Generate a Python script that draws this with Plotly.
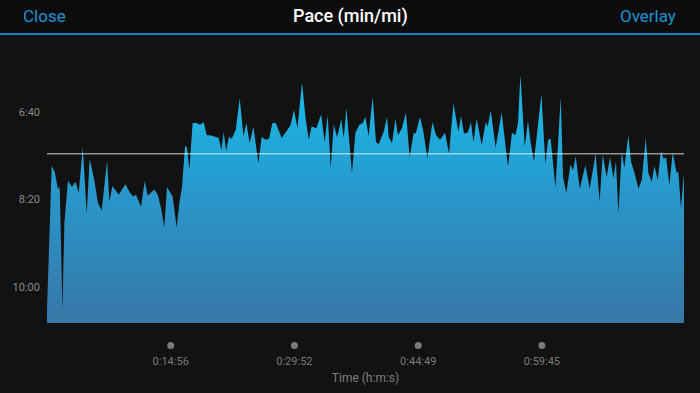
import plotly.graph_objects as go

# elapsed time (s) and pace (s per mile)
time_s = [0, 34, 56, 80, 92, 112, 126, 152, 181, 206, 230, 259, 288, 309, 340, 369, 396, 435, 452, 474,
          519, 568, 599, 623, 645, 681, 708, 729, 778, 802, 826, 850, 869, 910, 939, 959, 978, 1000, 1014, 1031,
          1055, 1084, 1108, 1135, 1157, 1181, 1224, 1244, 1263, 1280, 1297, 1318, 1338, 1367, 1396, 1423, 1444, 1468, 1495, 1531,
          1555, 1584, 1608, 1633, 1657, 1700, 1741, 1765, 1789, 1814, 1847, 1874, 1896, 1917, 1951, 1986, 2011, 2033, 2055, 2077,
          2101, 2132, 2149, 2169, 2209, 2234, 2263, 2287, 2306, 2330, 2359, 2383, 2403, 2439, 2463, 2475, 2499, 2524, 2542, 2571,
          2600, 2627, 2656, 2671, 2702, 2726, 2755, 2792, 2818, 2847, 2883, 2912, 2944, 2980, 2999, 3020, 3047, 3071, 3089, 3112,
          3149, 3178, 3192, 3214, 3250, 3293, 3339, 3368, 3393, 3412, 3429, 3460, 3484, 3503, 3527, 3556, 3581, 3610, 3629, 3648,
          3683, 3721, 3738, 3762, 3791, 3810, 3830, 3859, 3900, 3931, 3974, 4003, 4025, 4054, 4078, 4103, 4121, 4139, 4163, 4182,
          4211, 4230, 4259, 4284, 4308, 4337, 4356, 4380, 4400, 4424, 4447, 4467, 4484, 4508, 4532, 4561, 4573, 4592, 4614]
pace_s = [627, 462, 469, 489, 486, 627, 527, 479, 486, 480, 493, 441, 517, 454, 476, 504, 513, 456, 503, 485,
          495, 483, 492, 497, 495, 509, 479, 496, 489, 495, 510, 532, 486, 497, 532, 504, 486, 439, 441, 467,
          413, 413, 415, 412, 427, 427, 429, 430, 444, 423, 445, 429, 431, 421, 385, 428, 413, 436, 417, 459,
          429, 432, 431, 413, 413, 430, 421, 415, 398, 419, 367, 409, 432, 417, 419, 403, 435, 404, 464, 415,
          429, 409, 430, 396, 470, 424, 415, 413, 406, 428, 383, 435, 437, 423, 406, 429, 436, 408, 427, 419,
          401, 452, 424, 425, 406, 423, 453, 412, 427, 432, 424, 448, 391, 423, 405, 425, 424, 412, 435, 408,
          438, 412, 417, 399, 441, 401, 463, 424, 427, 413, 358, 440, 411, 435, 457, 419, 380, 460, 432, 431,
          487, 384, 475, 493, 461, 467, 451, 488, 461, 488, 448, 503, 449, 475, 452, 476, 457, 516, 446, 464,
          427, 457, 472, 488, 478, 430, 470, 480, 462, 478, 445, 454, 452, 484, 447, 470, 469, 510, 470]

avg_pace = 448
x_tick_vals = [896, 1792, 2689, 3585]
x_tick_text = ["0:14:56", "0:29:52", "0:44:49", "0:59:45"]
y_tick_vals = [400, 500, 600]
y_tick_text = ["6:40", "8:20", "10:00"]
x_max = 4614
y_bottom = 641.5
y_top = 340.9

W, H = 700, 393
ML, MR, MT, MB = 47, 16, 60, 70
PW, PH = W - ML - MR, H - MT - MB

def px_to_paper_y(py):
    return (H - MB - py) / PH

def px_to_paper_x(px):
    return (px - ML) / PW

fig = go.Figure()
fig.add_trace(go.Scatter(x=[0, x_max], y=[y_bottom, y_bottom], mode="lines",
                         line=dict(width=0), hoverinfo="skip", showlegend=False))
fig.add_trace(go.Scatter(
    x=time_s, y=pace_s, mode="lines", line=dict(width=0, color="#1ab0e2"),
    fill="tonexty",
    fillgradient=dict(type="vertical", start=y_bottom, stop=y_top,
                      colorscale=[[0, "#3876a6"], [0.5, "#2898cc"], [1, "#14c2f0"]]),
    showlegend=False, hoverinfo="skip"))

shapes = []
# header
shapes.append(dict(type="rect", xref="paper", yref="paper",
                   x0=px_to_paper_x(0), x1=px_to_paper_x(W),
                   y0=px_to_paper_y(34), y1=px_to_paper_y(0),
                   fillcolor="#0c0c0c", line=dict(width=0), layer="below"))
shapes.append(dict(type="line", xref="paper", yref="paper",
                   x0=px_to_paper_x(0), x1=px_to_paper_x(W),
                   y0=px_to_paper_y(34), y1=px_to_paper_y(34),
                   line=dict(color="#1b7fbd", width=2)))
# average line
shapes.append(dict(type="line", xref="paper", yref="y", x0=0, x1=1, y0=avg_pace, y1=avg_pace,
                   line=dict(color="rgba(255,255,255,0.55)", width=1.5)))
# tick dots
for tv in x_tick_vals:
    shapes.append(dict(type="circle", xref="x", yref="paper",
                       xsizemode="pixel", ysizemode="pixel",
                       xanchor=tv, yanchor=px_to_paper_y(345.5),
                       x0=-3.5, x1=3.5, y0=-3.5, y1=3.5,
                       fillcolor="#7a7a7a", line=dict(width=0)))

annotations = [
    dict(text="Close", xref="paper", yref="paper", x=px_to_paper_x(21), y=px_to_paper_y(16.5),
         xanchor="left", yanchor="middle", showarrow=False,
         font=dict(family="Roboto", size=17, color="#1e93d3")),
    dict(text="Overlay", xref="paper", yref="paper", x=px_to_paper_x(678), y=px_to_paper_y(16.5),
         xanchor="right", yanchor="middle", showarrow=False,
         font=dict(family="Roboto", size=17, color="#1e93d3")),
    dict(text="Pace (min/mi)", xref="paper", yref="paper", x=px_to_paper_x(350), y=px_to_paper_y(16.5),
         xanchor="center", yanchor="middle", showarrow=False,
         font=dict(family="Roboto", size=18, color="#ffffff", weight=500)),
]

fig.update_layout(
    width=W, height=H,
    margin=dict(l=ML, r=MR, t=MT, b=MB),
    paper_bgcolor="#121212", plot_bgcolor="#121212",
    shapes=shapes, annotations=annotations,
    xaxis=dict(range=[0, x_max], showgrid=False, zeroline=False, showline=False,
               tickvals=x_tick_vals, ticktext=x_tick_text, ticks="",
               ticklabelstandoff=30,
               tickfont=dict(family="Roboto", size=11, color="#7a7a7a"),
               title=dict(text="Time (h:m:s)", standoff=6,
                          font=dict(family="Roboto", size=12, color="#7f7f7f"))),
    yaxis=dict(range=[y_bottom, y_top], showgrid=False, zeroline=False, showline=False,
               tickvals=y_tick_vals, ticktext=y_tick_text, ticks="",
               ticklabelstandoff=6,
               tickfont=dict(family="Roboto", size=11, color="#8a8a8a")),
)

fig.write_html("out.html")
